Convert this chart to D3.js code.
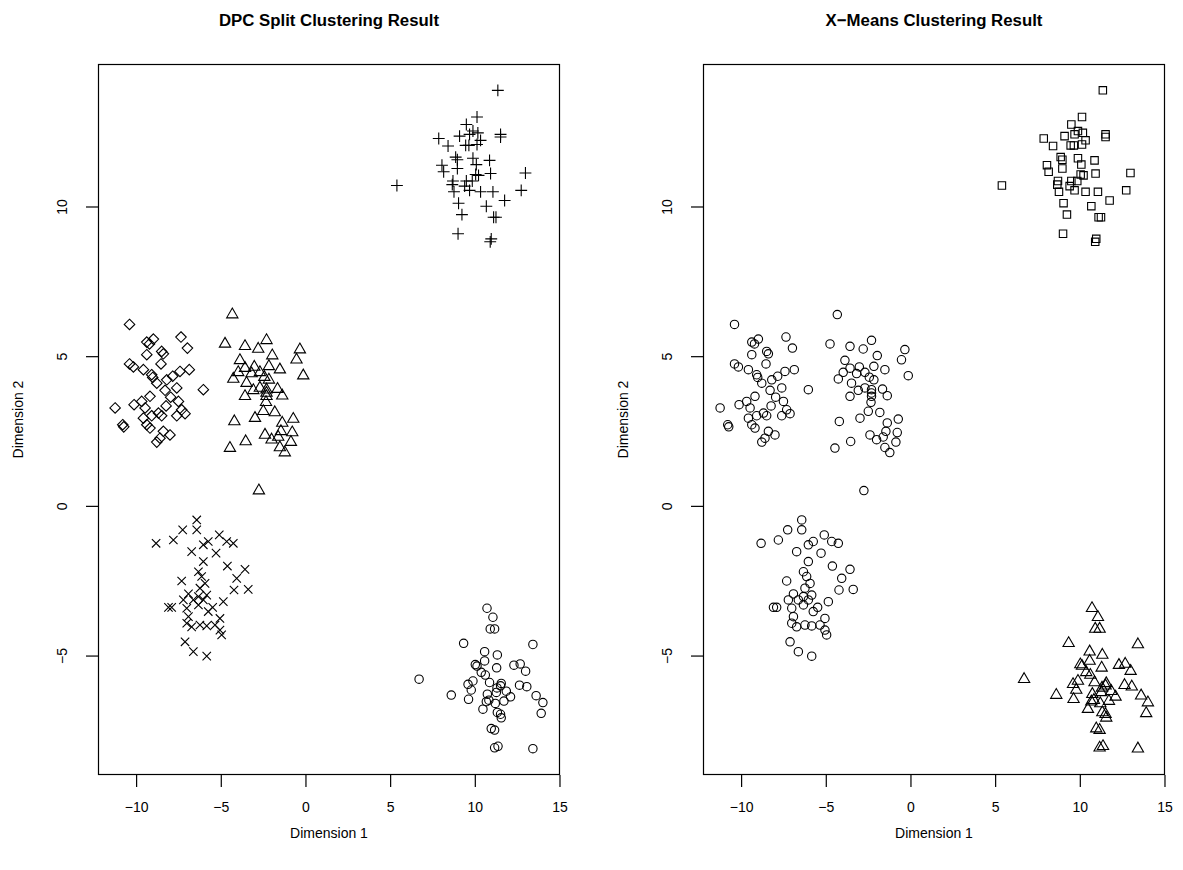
<!DOCTYPE html>
<html>
<head>
<meta charset="utf-8">
<script src="https://cdn.jsdelivr.net/npm/d3@7"></script>
<style>
  body { margin: 0; background: #fff; }
  svg text { font-family: "Liberation Sans", Arial, Helvetica, sans-serif; fill: #000; }
</style>
</head>
<body>
<svg id="chart" width="1183" height="870"></svg>
<script>
// Two-dimensional points, grouped by the blob they were sampled around.
const blobNorthEast = [
  [11.36,13.88],[10.13,12.99],[9.50,12.74],[9.89,12.52],[10.18,12.46],[9.69,12.41],
  [11.52,12.41],[11.52,12.32],[7.87,12.27],[9.10,12.35],[10.34,12.21],[8.42,12.02],
  [9.46,12.04],[9.65,12.04],[10.13,12.07],[8.87,11.65],[8.97,11.56],[9.89,11.61],
  [10.87,11.54],[8.06,11.38],[10.09,11.40],[8.97,11.27],[8.16,11.16],[10.05,11.07],
  [10.22,11.04],[10.93,11.10],[12.99,11.12],[8.71,10.85],[9.50,10.85],[9.85,10.85],
  [12.74,10.54],[8.77,10.49],[9.69,10.54],[10.34,10.49],[11.07,10.49],[11.76,10.20],
  [9.04,10.11],[10.68,10.01],[9.24,9.73],[11.11,9.64],[11.25,9.64],[9.01,9.09],
  [10.97,8.92],[10.91,8.82],[5.40,10.70],[8.67,10.73],[9.40,10.68]
];
const blobWest = [
  [-10.39,6.06],[-9.37,5.47],[-9.21,5.41],[-8.98,5.57],[-7.35,5.64],[-6.97,5.27],
  [-9.37,5.05],[-8.49,5.16],[-8.39,5.08],[-10.39,4.74],[-10.16,4.64],[-8.53,4.74],
  [-9.57,4.55],[-9.08,4.38],[-9.02,4.29],[-7.41,4.49],[-6.86,4.55],[-7.84,4.33],
  [-8.19,4.21],[-8.78,4.10],[-7.60,3.94],[-6.03,3.88],[-8.29,3.86],[-9.18,3.66],
  [-9.67,3.49],[-7.96,3.63],[-7.50,3.49],[-10.12,3.38],[-11.24,3.27],[-9.47,3.27],
  [-8.23,3.34],[-7.31,3.21],[-7.11,3.08],[-7.60,3.01],[-8.68,3.10],[-8.49,3.01],
  [-9.08,3.01],[-9.57,2.93],[-10.79,2.71],[-10.73,2.64],[-9.37,2.71],[-9.18,2.60],
  [-8.39,2.49],[-8.00,2.37],[-8.59,2.26],[-8.78,2.13]
];
const blobCentre = [
  [-4.32,6.39],[-4.75,5.41],[-3.57,5.33],[-2.79,5.24],[-2.30,5.53],[-0.33,5.22],
  [-1.96,5.02],[-0.53,4.88],[-3.87,4.86],[-3.57,4.60],[-3.02,4.64],[-2.16,4.66],
  [-1.51,4.55],[-3.97,4.46],[-2.69,4.46],[-0.13,4.35],[-4.26,4.24],[-3.18,4.42],
  [-2.43,4.30],[-2.16,4.21],[-3.48,4.10],[-2.69,3.94],[-3.08,3.86],[-1.65,3.90],
  [-2.30,3.88],[-2.30,3.77],[-2.30,3.66],[-3.57,3.66],[-1.37,3.68],[-2.33,3.46],
  [-2.49,3.16],[-1.81,3.12],[-2.98,2.93],[-4.20,2.82],[-1.37,2.77],[-0.72,2.90],
  [-2.39,2.37],[-1.45,2.49],[-0.78,2.45],[-2.00,2.21],[-1.61,2.30],[-3.53,2.15],
  [-4.46,1.93],[-0.86,2.13],[-1.51,1.95],[-1.22,1.78],[-2.75,0.51]
];
const blobSouthWest = [
  [-6.42,-0.47],[-6.42,-0.80],[-7.25,-0.80],[-7.80,-1.14],[-8.82,-1.25],[-5.09,-0.97],
  [-4.65,-1.19],[-4.26,-1.25],[-5.74,-1.19],[-6.03,-1.30],[-6.72,-1.53],[-5.28,-1.58],
  [-6.03,-1.86],[-4.61,-2.01],[-3.57,-2.12],[-6.32,-2.20],[-6.13,-2.36],[-4.06,-2.42],
  [-7.31,-2.51],[-5.93,-2.59],[-6.23,-2.75],[-3.38,-2.79],[-4.22,-2.81],[-6.91,-2.94],
  [-5.83,-2.98],[-6.32,-3.03],[-7.21,-3.14],[-6.62,-3.14],[-6.03,-3.14],[-4.85,-3.20],
  [-8.09,-3.39],[-7.90,-3.39],[-7.01,-3.42],[-6.32,-3.31],[-5.48,-3.39],[-5.74,-3.53],
  [-6.91,-3.70],[-5.05,-3.76],[-7.01,-3.92],[-6.72,-4.04],[-6.23,-3.98],[-5.83,-4.01],
  [-5.34,-3.98],[-5.05,-4.15],[-4.95,-4.31],[-7.11,-4.54],[-6.62,-4.87],[-5.83,-5.02]
];
const blobSouthEast = [
  [10.72,-3.42],[11.07,-3.72],[10.91,-4.11],[11.17,-4.11],[9.34,-4.59],[13.43,-4.63],
  [10.58,-4.87],[11.33,-4.98],[10.58,-5.18],[10.03,-5.30],[10.13,-5.35],[11.29,-5.41],
  [12.31,-5.32],[12.68,-5.28],[13.00,-5.52],[10.38,-5.56],[10.62,-5.65],[9.89,-5.85],
  [10.87,-5.90],[11.56,-5.93],[11.52,-6.01],[11.31,-6.08],[9.60,-5.96],[12.64,-5.99],
  [13.07,-6.04],[6.71,-5.79],[9.79,-6.15],[11.86,-6.19],[11.27,-6.23],[10.74,-6.29],
  [8.61,-6.32],[12.11,-6.38],[13.62,-6.34],[9.63,-6.46],[10.83,-6.49],[10.68,-6.54],
  [11.72,-6.52],[11.21,-6.60],[14.02,-6.57],[10.48,-6.79],[11.33,-6.90],[11.52,-6.96],
  [11.56,-7.08],[13.92,-6.93],[10.97,-7.44],[11.17,-7.49],[11.17,-8.08],[11.37,-8.03],
  [13.43,-8.11]
];

const blobs = [blobNorthEast, blobWest, blobCentre, blobSouthWest, blobSouthEast];

// Cluster label each method gives to each blob
const dpcClusters    = [3, 5, 2, 4, 1];
const xmeansClusters = [0, 1, 1, 1, 2];

// Plotting symbol used for each cluster label (R pch codes)
const pchForCluster = { 0: "square", 1: "circle", 2: "triangle", 3: "plus", 4: "cross", 5: "diamond" };

const panelTitles = ["DPC Split Clustering Result", "X\u2212Means Clustering Result"];
const xTickValues = [-10, -5, 0, 5, 10, 15];
const yTickValues = [-5, 0, 5, 10];
const xAxisTitle = "Dimension 1";
const yAxisTitle = "Dimension 2";

const fmt = v => String(v).replace("-", "\u2212");

const points = blobs.flatMap((b, bi) => b.map(([x, y]) => ({ x, y, blob: bi })));

// axis limits padded 4% beyond the data range
function padded(ext) { const r = ext[1] - ext[0]; return [ext[0] - 0.04 * r, ext[1] + 0.04 * r]; }
const xDomain = padded(d3.extent(points, d => d.x));
const yDomain = padded(d3.extent(points, d => d.y));

const svg = d3.select("#chart");
const R = 4.2;

function symbolPath(kind) {
  switch (kind) {
    case "circle": return `M${R},0A${R},${R},0,1,1,${-R},0A${R},${R},0,1,1,${R},0Z`;
    case "square": { const s = 0.886 * R; return `M${-s},${-s}H${s}V${s}H${-s}Z`; }
    case "diamond": { const s = 1.253 * R; return `M0,${-s}L${s},0L0,${s}L${-s},0Z`; }
    case "triangle": {
      const a = 1.5551 * R, h = 1.3468 * R, b = 0.7776 * R;
      return `M0,${-a}L${h},${b}L${-h},${b}Z`;
    }
    case "plus": { const s = Math.SQRT2 * R; return `M${-s},0H${s}M0,${-s}V${s}`; }
    case "cross": { const s = R; return `M${-s},${-s}L${s},${s}M${-s},${s}L${s},${-s}`; }
  }
}

const panels = [
  { left: 98, labels: dpcClusters, title: panelTitles[0] },
  { left: 703, labels: xmeansClusters, title: panelTitles[1] }
];
const plotW = 462, plotTop = 64, plotBottom = 775;

panels.forEach(p => {
  const x = d3.scaleLinear().domain(xDomain).range([p.left, p.left + plotW]);
  const y = d3.scaleLinear().domain(yDomain).range([plotBottom, plotTop]);
  const g = svg.append("g");

  g.append("g").selectAll("path").data(points).join("path")
    .attr("transform", d => `translate(${x(d.x)},${y(d.y)})`)
    .attr("d", d => symbolPath(pchForCluster[p.labels[d.blob]]))
    .attr("fill", "none").attr("stroke", "#000").attr("stroke-width", 1.1);

  // frame
  g.append("rect").attr("x", p.left + 0.5).attr("y", plotTop + 0.5)
    .attr("width", plotW - 1).attr("height", plotBottom - plotTop - 1)
    .attr("fill", "none").attr("stroke", "#000").attr("stroke-width", 1.2);

  // x axis
  const xa = g.append("g").attr("transform", `translate(0,${plotBottom})`)
    .call(d3.axisBottom(x).tickValues(xTickValues).tickSize(12).tickPadding(15).tickFormat(fmt));
  xa.select(".domain").remove();
  xa.selectAll("line").attr("stroke", "#000").attr("stroke-width", 1.2);
  xa.selectAll("text").attr("font-size", 14).attr("font-family", "Liberation Sans, Arial, sans-serif");

  // y axis with rotated labels
  const ya = g.append("g").attr("transform", `translate(${p.left},0)`)
    .call(d3.axisLeft(y).tickValues(yTickValues).tickSize(12).tickFormat(fmt));
  ya.select(".domain").remove();
  ya.selectAll("line").attr("stroke", "#000").attr("stroke-width", 1.2);
  ya.selectAll("text")
    .attr("x", null).attr("dy", null)
    .attr("text-anchor", "middle")
    .attr("transform", `translate(${-31},0) rotate(-90)`)
    .attr("font-size", 14).attr("font-family", "Liberation Sans, Arial, sans-serif");

  g.append("text").attr("x", p.left + plotW / 2).attr("y", 26)
    .attr("text-anchor", "middle").attr("font-size", 16.8).attr("font-weight", "bold")
    .text(p.title);
  g.append("text").attr("x", p.left + plotW / 2).attr("y", 838)
    .attr("text-anchor", "middle").attr("font-size", 14).text(xAxisTitle);
  g.append("text").attr("transform", `translate(${p.left - 75},${(plotTop + plotBottom) / 2}) rotate(-90)`)
    .attr("text-anchor", "middle").attr("font-size", 14).text(yAxisTitle);
});
</script>
</body>
</html>
